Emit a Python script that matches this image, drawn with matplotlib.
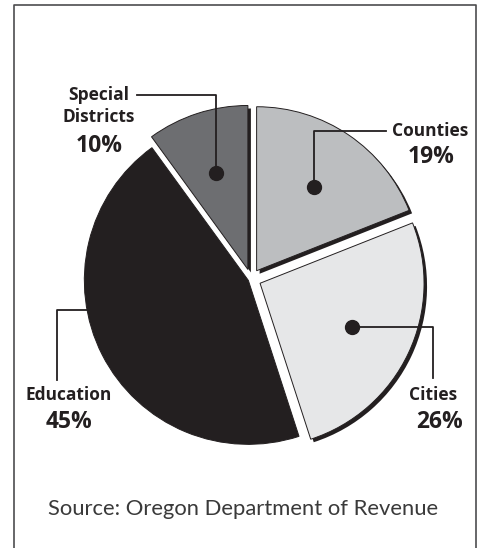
import matplotlib.pyplot as plt
import numpy as np

# revenue shares by recipient
labels = ['Counties', 'Cities', 'Education', 'Special\nDistricts']
shares = [19, 26, 45, 10]
pct_labels = ['19%', '26%', '45%', '10%']
colors = ['#bcbec0', '#e6e7e8', '#231f20', '#6d6e71']

W, H = 483, 548
INK = '#231f20'


def Y(y):       # pixel row -> data y (axes spans the whole figure)
    return H - y


fig = plt.figure(figsize=(W / 100, H / 100), dpi=100)
ax = fig.add_axes([0, 0, 1, 1])

cx, cy, r = 251, Y(279), 164
explode = [10, 10, 3, 10]

# black drop shadow under the light slices
shadow_cols = [INK, INK, 'none', INK]
ax.pie(shares, radius=r, center=(cx + 3, cy - 3), startangle=90, counterclock=False,
       explode=explode, colors=shadow_cols, wedgeprops=dict(linewidth=0))
wedges, _ = ax.pie(shares, radius=r, center=(cx, cy), startangle=90, counterclock=False,
                   explode=explode, colors=colors,
                   wedgeprops=dict(edgecolor=INK, linewidth=0.7))

ax.set_xlim(0, W)
ax.set_ylim(0, H)
ax.set_aspect('equal')
ax.axis('off')

# dots inside the slices
dots = []
for w in wedges:
    tm = np.radians((w.theta1 + w.theta2) / 2)
    dots.append((w.center[0] + 0.62 * r * np.cos(tm), w.center[1] + 0.62 * r * np.sin(tm)))

for i in (0, 1, 3):
    ax.plot(*dots[i], 'o', ms=10, color=INK, zorder=5)

lw = 1.3
# leader lines
d = dots[3]
ax.plot([137, d[0], d[0]], [Y(95), Y(95), d[1]], color=INK, lw=lw, zorder=4)
d = dots[0]
ax.plot([d[0], d[0], 386], [d[1], Y(131), Y(131)], color=INK, lw=lw, zorder=4)
d = dots[1]
ax.plot([d[0], 433, 433], [d[1], d[1], Y(378)], color=INK, lw=lw, zorder=4)
edu = wedges[2]
ey = Y(310)
ex = edu.center[0] - np.sqrt(r ** 2 - (ey - edu.center[1]) ** 2)
ax.plot([ex + 2, 57, 57], [ey, ey, Y(380)], color=INK, lw=lw, zorder=4)

# labels
fam = ['Open Sans', 'DejaVu Sans']
lab_pos = [(430, 131), (433, 395), (69, 395), (99, 106)]
pct_pos = [(431, 157), (440, 422), (69, 422), (99, 146)]
for name, p, pct, q in zip(labels, lab_pos, pct_labels, pct_pos):
    ax.text(p[0], Y(p[1]), name, ha='center', va='center', fontsize=12.5, fontweight='bold',
            family=fam, color=INK, linespacing=1.3)
    ax.text(q[0], Y(q[1]), pct, ha='center', va='center', fontsize=16.5, fontweight='bold',
            family=fam, color=INK)

ax.text(243, Y(509), 'Source: Oregon Department of Revenue', ha='center', va='center',
        fontsize=15.8, family=['Lato', 'DejaVu Sans'], fontweight='normal', color='#3a3a3a')

# frame around the figure
ax.plot([14, 14, 476, 476], [0, Y(5), Y(5), 0], color='#4d4d4f', lw=1.2, clip_on=False)

fig.savefig('out.png', dpi=100)
